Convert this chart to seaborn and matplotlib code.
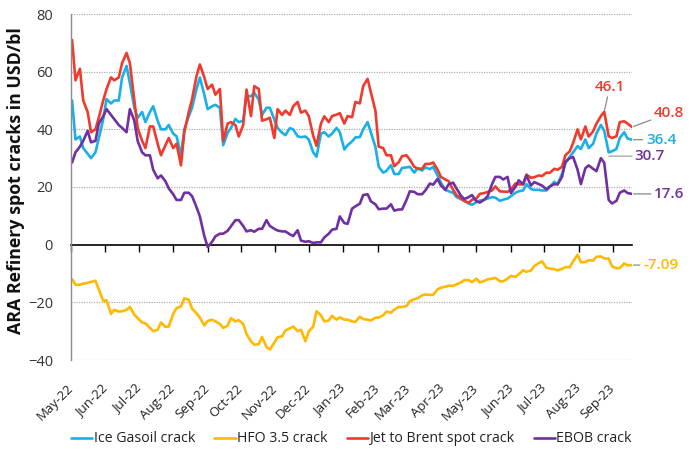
import numpy as np
import pandas as pd
import matplotlib
matplotlib.use("Agg")
import matplotlib.pyplot as plt
import matplotlib.dates as mdates
import seaborn as sns

# ---------------- data ----------------
start_date = "2022-05-02"
end_date = "2023-09-18"
_days = pd.date_range(start_date, end_date, freq="D")
dates = _days[_days.weekday.isin([0, 3])]          # Mondays & Thursdays

series_names = ["Ice Gasoil crack", "HFO 3.5 crack", "Jet to Brent spot crack", "EBOB crack"]
series_colors = ["#1AAFE6", "#FFB900", "#EF3A2D", "#7030A0"]

gasoil = [
    50, 36.5, 37.5, 33.5, 31.5, 30, 32, 37, 43.5,            # May-22
    50.5, 49, 50, 50, 58, 62, 56, 47.5, 44,                  # Jun-22
    46, 42.5, 46, 48, 43, 40, 40, 41.5,                      # Jul-22
    38.5, 37.6, 31, 40, 44.5, 47.5, 54, 58, 52,              # Aug-22
    47, 48, 48.5, 47.5, 34.5, 38.8, 40.5, 43.6, 42.5,        # Sep-22
    43, 51.5, 51.5, 52.7, 50.3, 45, 47.5, 47.5, 43.4,        # Oct-22
    40.5, 38.8, 38, 40.4, 40, 37.6, 37.3, 37.5,              # Nov-22
    36.5, 32, 30.5, 38.5, 39, 37.5, 38.5, 40.5, 39,          # Dec-22
    33, 34.5, 35.8, 37.2, 37.3, 40, 42.5, 38.8, 34,          # Jan-23
    27, 25, 25.6, 27.6, 24.5, 24.5, 26.6, 26.8,              # Feb-23
    27, 25, 26.5, 25.7, 26.8, 26.2, 27, 24, 21.5,            # Mar-23
    19, 18.5, 18, 16.5, 15.8, 15.2, 14.3, 13.8,              # Apr-23
    14.8, 15.3, 15.6, 16, 16.5, 16.3, 15.2, 15.6, 16,        # May-23
    16.8, 18, 18.5, 18.8, 21, 19.3, 19, 19, 18.8,            # Jun-23
    18.8, 20, 21.8, 21, 24.5, 28.2, 30.5, 32, 34.2,          # Jul-23
    33.2, 36.5, 33.5, 35, 38.6, 41.5, 39.5, 32, 32.4,        # Aug-23
    33.2, 37, 39, 36.8, 36.4,                                # Sep-23
]

hfo = [
    -12, -13.9, -13.9, -13.5, -13.3, -12.9, -12.5, -15.5, -19.5,
    -19.3, -24, -22.6, -23.2, -23.1, -22.6, -21.6, -24.3, -25.5,
    -27, -27.3, -28.8, -30, -29.5, -27, -28.5, -28.4,
    -24, -22, -21.4, -18.6, -19.1, -22.2, -23.8, -25.3, -28,
    -26.5, -26, -26.6, -27.5, -28.9, -28.1, -25.5, -26.6, -26.2,
    -27.5, -31, -33.5, -34.7, -34.5, -32, -35.5, -36.4, -34,
    -32.1, -31.8, -29.8, -29, -28.4, -30, -29.5, -33.5,
    -30, -28.5, -23.1, -24.5, -26.6, -26.3, -24.7, -26, -25.2,
    -26, -26, -26.6, -26.8, -25, -25.8, -26, -26.3, -25.3,
    -25.3, -24.5, -23.2, -23.6, -22.5, -21.6, -21.6, -21.3,
    -19.6, -18.9, -18.6, -17.6, -17.3, -17.4, -17.4, -15.5, -14.9,
    -14.6, -14.2, -14.3, -13.8, -13.1, -12.3, -12.3, -13,
    -11.8, -13.1, -12.6, -12, -11.8, -11.5, -12.7, -12.7, -11.8,
    -10.8, -11.2, -10.3, -8.9, -9.4, -9, -7.4, -6.4, -5.8,
    -8, -8.3, -8.5, -8.9, -8.4, -7.8, -7.8, -5.8, -3.5,
    -6.1, -6, -5.4, -5.5, -4.2, -4.1, -4.8, -4.8, -7.5,
    -8.2, -8.1, -6.5, -7.2, -7.09,
]

jet = [
    71, 57, 61, 50, 46, 39, 40, 44, 50,
    54, 58, 57, 58, 63, 66.5, 63, 50, 40.5,
    36, 33.5, 41, 41, 35, 31, 34.5, 37,
    33.5, 35, 27.5, 39, 46, 50.5, 58.5, 62.5, 58,
    54, 55.5, 52, 54, 36, 42, 42.5, 41.5, 37.5,
    41.5, 53.8, 44.6, 55, 54, 43, 43.5, 44, 37,
    47, 45, 46.5, 45, 48, 49.5, 45.8, 46.5,
    44.6, 37.8, 34.3, 42, 44.5, 42.5, 44.6, 45.1, 45.6,
    42, 44.6, 44.2, 49.5, 49, 55, 57.5, 52.7, 46.5,
    34, 33.5, 31, 31, 27.2, 28.6, 30.7, 31,
    29.5, 27, 26.4, 26.3, 28, 28, 28.5, 26, 23.5,
    22.6, 22, 19, 17.2, 16, 15.2, 14.5, 15.6,
    16, 17.6, 17.9, 18.3, 18.8, 20.2, 18.5, 18.4, 18.3,
    19.1, 21.2, 20.9, 20.9, 24.3, 23.2, 23.4, 24, 23.8,
    25, 24.9, 26.3, 26, 27, 31, 32.4, 35.3, 40,
    36.5, 41, 37.5, 39.3, 42, 44.6, 46.1, 37.6, 37,
    37.6, 42.5, 42.8, 42, 40.8,
]

ebob = [
    28.5, 32, 34, 36, 39.5, 35.5, 36, 42, 44.5,
    47, 45, 43.5, 41.5, 40.5, 39, 47, 43, 36,
    32, 31, 31, 26, 23, 24, 22, 19.5,
    17.5, 15.5, 15.5, 18, 18, 16.8, 13, 9.8, 3,
    -0.8, 1, 2.9, 3.8, 3.8, 4.8, 6.4, 8.5, 8.5,
    6.5, 4.6, 5, 4.5, 5.5, 5.5, 8.5, 6.5, 5.5,
    4.9, 4.6, 4.6, 3.6, 3, 5, 1.4, 1,
    1.2, 0.6, 0.8, 0.8, 2.5, 3.8, 5.2, 5.5, 9.8,
    7.5, 7.2, 12.5, 13.3, 14.2, 17.2, 17.5, 15, 14,
    12.3, 12.5, 12.5, 14, 11.8, 12.2, 12.2, 15.5,
    18.5, 18.3, 17.5, 17.5, 18.8, 21.2, 20.8, 22.8, 20.5,
    19, 21, 21.5, 19.5, 17, 15.8, 16.5, 17.2,
    15, 14.6, 15.6, 16.8, 21, 23.5, 23.5, 22.6, 23.5,
    17.9, 20, 22.3, 21, 24, 20.5, 21.7, 21, 20.5,
    19.2, 20.2, 21, 20.9, 23.5, 28.8, 30, 30.4, 26,
    21, 26.5, 27.5, 26.3, 25.5, 30, 28.4, 15.5, 14.3,
    15.2, 18, 18.8, 17.9, 17.6,
]

y_ticks = [-40, -20, 0, 20, 40, 60, 80]
y_label = "ARA Refinery spot cracks in USD/bl"
callout_texts = ["46.1", "40.8", "36.4", "30.7", "17.6", "-7.09"]

# ---------------- figure ----------------
sns.set_theme(style="white")
plt.rcParams["font.family"] = ["Open Sans", "DejaVu Sans"]

fig = plt.figure(figsize=(7.0, 4.57), dpi=100)
ax = fig.add_axes([71 / 700, 1 - 360 / 457, 561 / 700, 346 / 457])

all_series = [gasoil, hfo, jet, ebob]
for name, vals, col in zip(series_names, all_series, series_colors):
    assert len(vals) == len(dates), (name, len(vals), len(dates))
    sns.lineplot(x=dates, y=vals, color=col, lw=1.9, label=name, ax=ax, legend=False)

ax.set_ylim(-40, 80)
ax.set_xlim(pd.Timestamp("2022-05-01"), pd.Timestamp(end_date))
ax.set_yticks(y_ticks)
ax.set_ylabel(y_label, fontsize=12.8, fontweight="bold", color="#111111")
ax.yaxis.set_label_coords(-0.082, 0.52)
ax.set_xlabel("")

# grid
for yv in y_ticks:
    if yv != 0:
        ax.axhline(yv, color="#b0b0b0", lw=0.9, ls=(0, (1, 1)), zorder=0)

for s in ["top", "right", "bottom"]:
    ax.spines[s].set_visible(False)
ax.spines["left"].set_color("#8c8c8c")
ax.spines["left"].set_linewidth(1.0)

months = mdates.MonthLocator()
ax.xaxis.set_major_locator(months)
ax.xaxis.set_major_formatter(mdates.DateFormatter("%b-%y"))
ax.tick_params(axis="x", length=0, pad=19, labelsize=9.5, colors="#222222")
ax.tick_params(axis="y", length=0, pad=13, labelsize=10.5, colors="#333333")
for lab in ax.get_xticklabels():
    lab.set_rotation(45)
    lab.set_ha("right")
    lab.set_rotation_mode("anchor")
    lab.set_va("center")

# zero axis with month ticks
zero_frac = (0 - (-40)) / (80 - (-40))
sec = ax.secondary_xaxis(zero_frac)
sec.xaxis.set_major_locator(mdates.MonthLocator())
sec.tick_params(axis="x", direction="out", length=5, width=1, color="black", labelbottom=False, labeltop=False)
for s in sec.spines.values():
    s.set_color("black")
    s.set_linewidth(1.2)

# callouts
gray = "#8a8a8a"
jet_arr = np.array(jet)
aug_idx = np.where(dates >= pd.Timestamp("2023-08-01"))[0]
pk = aug_idx[np.argmax(jet_arr[aug_idx])]
arrow = dict(arrowstyle="-", color=gray, lw=0.9, shrinkA=0, shrinkB=1)
kw = dict(textcoords="offset points", fontsize=11, fontweight="semibold", annotation_clip=False)

ax.annotate(callout_texts[0], xy=(dates[pk], jet[pk]), xytext=(4, 13), color=series_colors[2],
            ha="center", va="bottom", arrowprops=arrow, **kw)
ax.annotate(callout_texts[1], xy=(dates[-1], jet[-1]), xytext=(16, 10), color=series_colors[2],
            ha="left", va="center", arrowprops=arrow, **kw)
ax.annotate(callout_texts[2], xy=(dates[-1], gasoil[-1]), xytext=(10, 0), color=series_colors[0],
            ha="left", va="center", arrowprops=arrow, **kw)
ax.annotate(callout_texts[4], xy=(dates[-1], ebob[-1]), xytext=(16, 0), color=series_colors[3],
            ha="left", va="center", arrowprops=arrow, **kw)
ax.annotate(callout_texts[5], xy=(dates[-1], hfo[-1]), xytext=(8, 0), color=series_colors[1],
            ha="left", va="center", arrowprops=arrow, **kw)
trough = aug_idx[np.argmin(np.array(gasoil)[aug_idx])]
ax.annotate("", xy=(dates[trough], 30.7), xytext=(dates[-1], 30.7), textcoords="data",
            arrowprops=dict(arrowstyle="-", color="#a0a0a0", lw=0.9, shrinkA=0, shrinkB=0),
            annotation_clip=False)
ax.annotate(callout_texts[3], xy=(dates[-1], 30.7), xytext=(1.5, 0), color=series_colors[3],
            ha="left", va="center", **kw)

# legend
handles, labels = ax.get_legend_handles_labels()
fig.legend(handles, labels, loc="center", bbox_to_anchor=(0.502, 1 - 439 / 457), ncol=4,
           frameon=False, fontsize=10.2, handlelength=1.5, handletextpad=0.1,
           columnspacing=1.35, labelcolor="#222222")

fig.savefig("out.png", dpi=100)
